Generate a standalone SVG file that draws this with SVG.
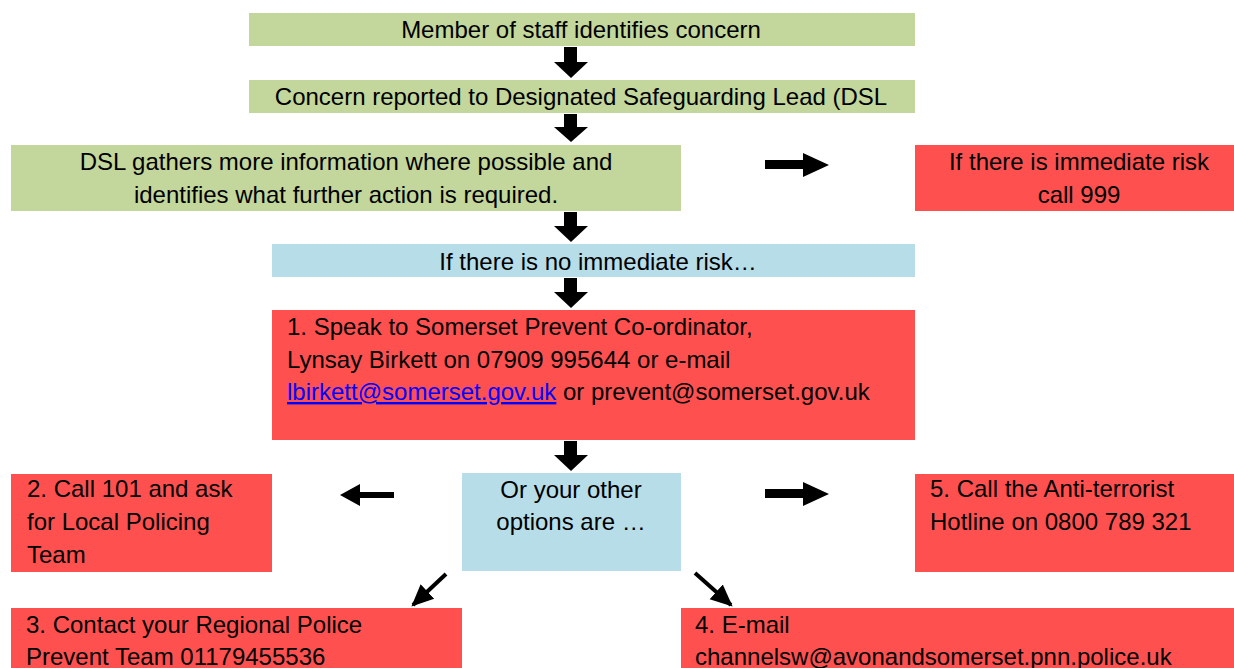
<svg xmlns="http://www.w3.org/2000/svg" width="1234" height="668" viewBox="0 0 1234 668">
<defs>
<style>
.g{fill:#C3D69B}
.r{fill:#FF5050}
.b{fill:#B7DDE8}
text{font-family:"Liberation Sans",Arial,sans-serif;font-size:24px;fill:#000}
.c{text-anchor:middle}
.link{fill:#0000FF;text-decoration:underline}
.arr{fill:#000}
.dl{stroke:#000;stroke-width:4;fill:none}
</style>
<marker id="ah" markerUnits="userSpaceOnUse" markerWidth="22" markerHeight="22" refX="18" refY="9" orient="auto" viewBox="0 0 20 18">
<path d="M0,0 L20,9 L0,18 Z" fill="#000"/>
</marker>
</defs>
<rect width="1234" height="668" fill="#fff"/>
<g id="n1"><rect class="g" x="249" y="13" width="666" height="33"/><text class="c" x="581" y="38">Member of staff identifies concern</text></g>
<g id="n2"><rect class="g" x="249" y="80" width="666" height="33"/><text class="c" x="581" y="105">Concern reported to Designated Safeguarding Lead (DSL</text></g>
<g id="n3"><rect class="g" x="11" y="145" width="670" height="66"/><text class="c" x="346" y="170">DSL gathers more information where possible and</text><text class="c" x="346" y="203">identifies what further action is required.</text></g>
<g id="n4"><rect class="r" x="915" y="145" width="319" height="66"/><text class="c" x="1079" y="170">If there is immediate risk</text><text class="c" x="1079" y="203">call 999</text></g>
<g id="n5"><rect class="b" x="272" y="244" width="643" height="33"/><text class="c" x="598" y="270">If there is no immediate risk…</text></g>
<g id="n6"><rect class="r" x="272" y="310" width="643" height="130"/><text x="287" y="335">1. Speak to Somerset Prevent Co-ordinator,</text><text x="287" y="368">Lynsay Birkett on 07909 995644 or e-mail</text><text x="287" y="400"><tspan class="link">lbirkett@somerset.gov.uk</tspan> or prevent@somerset.gov.uk</text></g>
<g id="n7"><rect class="b" x="462" y="473" width="219" height="98"/><text class="c" x="571" y="498">Or your other</text><text class="c" x="571" y="530">options are …</text></g>
<g id="n8"><rect class="r" x="11" y="474" width="261" height="98"/><text x="27" y="497">2. Call 101 and ask</text><text x="27" y="530">for Local Policing</text><text x="27" y="563">Team</text></g>
<g id="n9"><rect class="r" x="915" y="474" width="319" height="98"/><text x="930" y="497">5. Call the Anti-terrorist</text><text x="930" y="530">Hotline on 0800 789 321</text></g>
<g id="n10"><rect class="r" x="11" y="608" width="451" height="70"/><text x="26" y="633">3. Contact your Regional Police</text><text x="26" y="665">Prevent Team 01179455536</text></g>
<g id="n11"><rect class="r" x="681" y="608" width="553" height="70"/><text x="695" y="633">4. E-mail</text><text x="695" y="665">channelsw@avonandsomerset.pnn.police.uk</text></g>
<g id="connectors">
<path class="arr" d="M564,47 H577 V62 H588 L571,78 L554,62 H564 Z"/>
<path class="arr" d="M564,114 H577 V127 H588 L571,142 L554,127 H564 Z"/>
<path class="arr" d="M564,212 H577 V226 H588 L571,242 L554,226 H564 Z"/>
<path class="arr" d="M564,278 H577 V292 H588 L571,308 L554,292 H564 Z"/>
<path class="arr" d="M564,441 H577 V455 H588 L571,471 L554,455 H564 Z"/>
<path class="arr" d="M765,160 H803 V153 L829,165 L803,177 V169 H765 Z"/>
<path class="arr" d="M765,489 H803 V482 L829,494 L803,506 V498 H765 Z"/>
<path class="arr" d="M394,492 H360 V484 L340,495 L360,506 V498 H394 Z"/>
<line class="dl" x1="446" y1="574" x2="413" y2="605" marker-end="url(#ah)"/>
<line class="dl" x1="695" y1="573" x2="731" y2="605" marker-end="url(#ah)"/>
</g>
</svg>
